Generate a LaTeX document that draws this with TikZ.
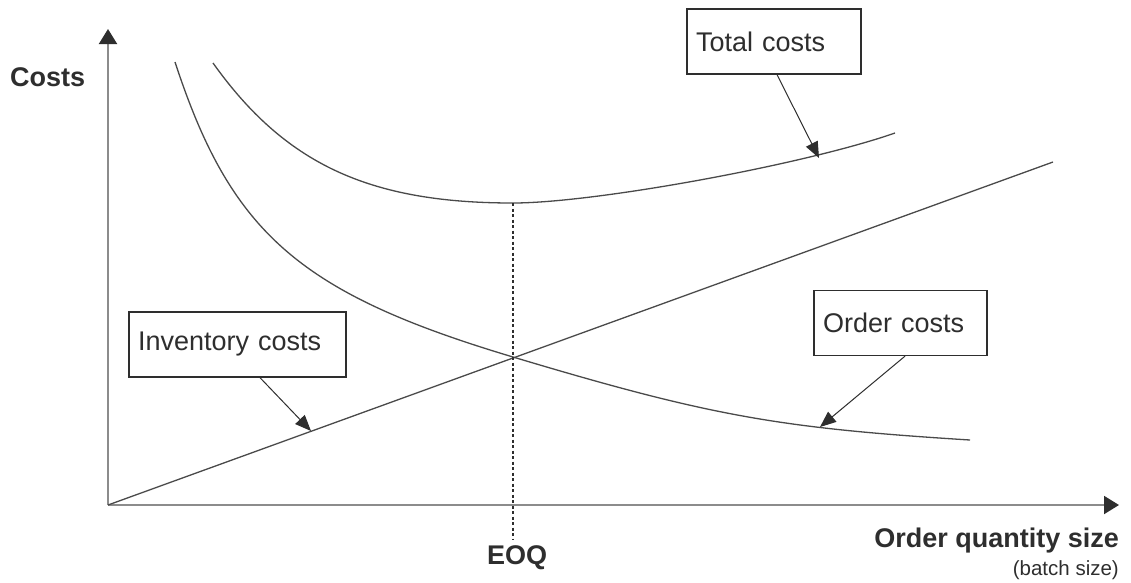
\documentclass[tikz,border=0pt]{standalone}
\usepackage{fontspec}
\setmainfont{Liberation Sans}
\usetikzlibrary{arrows.meta,calc}
\definecolor{inkc}{HTML}{2E2E2E}
\definecolor{axisc}{HTML}{8C8C8C}
\definecolor{curvec}{HTML}{4A4A4A}
\begin{document}
\begin{tikzpicture}[x=1pt,y=-1pt,
  axisline/.style={draw=axisc, line width=2pt,
    -{Triangle[length=15pt,width=18pt,color=inkc]}},
  curve/.style={draw=curvec, line width=1.3pt},
  guide/.style={draw=inkc, line width=1.3pt, dash pattern=on 3pt off 2.5pt},
  labelbox/.style={draw=inkc, line width=1.3pt, fill=white, inner xsep=9pt,
    inner ysep=0pt, align=left, minimum height=65pt, text=inkc,
    font=\fontsize{27}{30}\selectfont},
  pointer/.style={draw=inkc, line width=1pt,
    -{Triangle[length=16pt,width=13pt,color=inkc]}},
  axislabel/.style={text=inkc, inner sep=0pt, font=\fontsize{27}{30}\selectfont\bfseries},
  sublabel/.style={text=inkc, inner sep=0pt, font=\fontsize{20.5}{24}\selectfont}
]
\useasboundingbox (0,0) rectangle (1131,582);

% axes
\coordinate (O) at (108,505);
\coordinate (ytip) at (108,29);
\coordinate (xtip) at (1119,505);
\draw[axisline] (O) -- (ytip);
\draw[axisline] (O) -- (xtip);

% inventory costs: straight line through the origin
\coordinate (invend) at (1053,162);
\draw[curve] (O) -- (invend);

% EOQ point: where order and inventory costs meet
\coordinate (cross) at (513,357);
% minimum of the total costs
\coordinate (eoqtop) at (513,203);
\coordinate (eoqbot) at (513,540);

% order costs
\draw[curve] (175,62) .. controls (231,233) and (299,293) .. (cross)
  .. controls (710,416) and (778,428) .. (970,440);

% total costs
\draw[curve] (213,63) .. controls (285,164) and (369,203) .. (eoqtop)
  .. controls (595,203) and (805,164.5) .. (895,133);

% EOQ guide line
\draw[guide] (eoqtop) -- (eoqbot);

% axis labels
\node[axislabel, anchor=west] (ylab) at (10,77) {Costs};
\node[axislabel] (eoq) at (517,558) {EOQ};
\node[axislabel, anchor=east] (xlab) at (1119,541) {Order quantity size};
\node[sublabel, anchor=east] (xsub) at (1119,570) {(batch size)};

% curve labels
\node[labelbox, text width=156pt] (tc) at (774,41.5) {Total costs};
\node[labelbox, text width=199pt] (ic) at (237.5,344.5) {Inventory costs};
\node[labelbox, text width=155pt] (oc) at (900.5,323) {Order costs};

\coordinate (tcpt) at (819,158);
\coordinate (icpt) at (311,431);
\coordinate (ocpt) at (820,427);
\draw[pointer] ($(tc.south)+(3,0)$) -- (tcpt);
\draw[pointer] ($(ic.south)+(22.5,0)$) -- (icpt);
\draw[pointer] ($(oc.south)+(4.5,0)$) -- (ocpt);
\end{tikzpicture}
\end{document}
